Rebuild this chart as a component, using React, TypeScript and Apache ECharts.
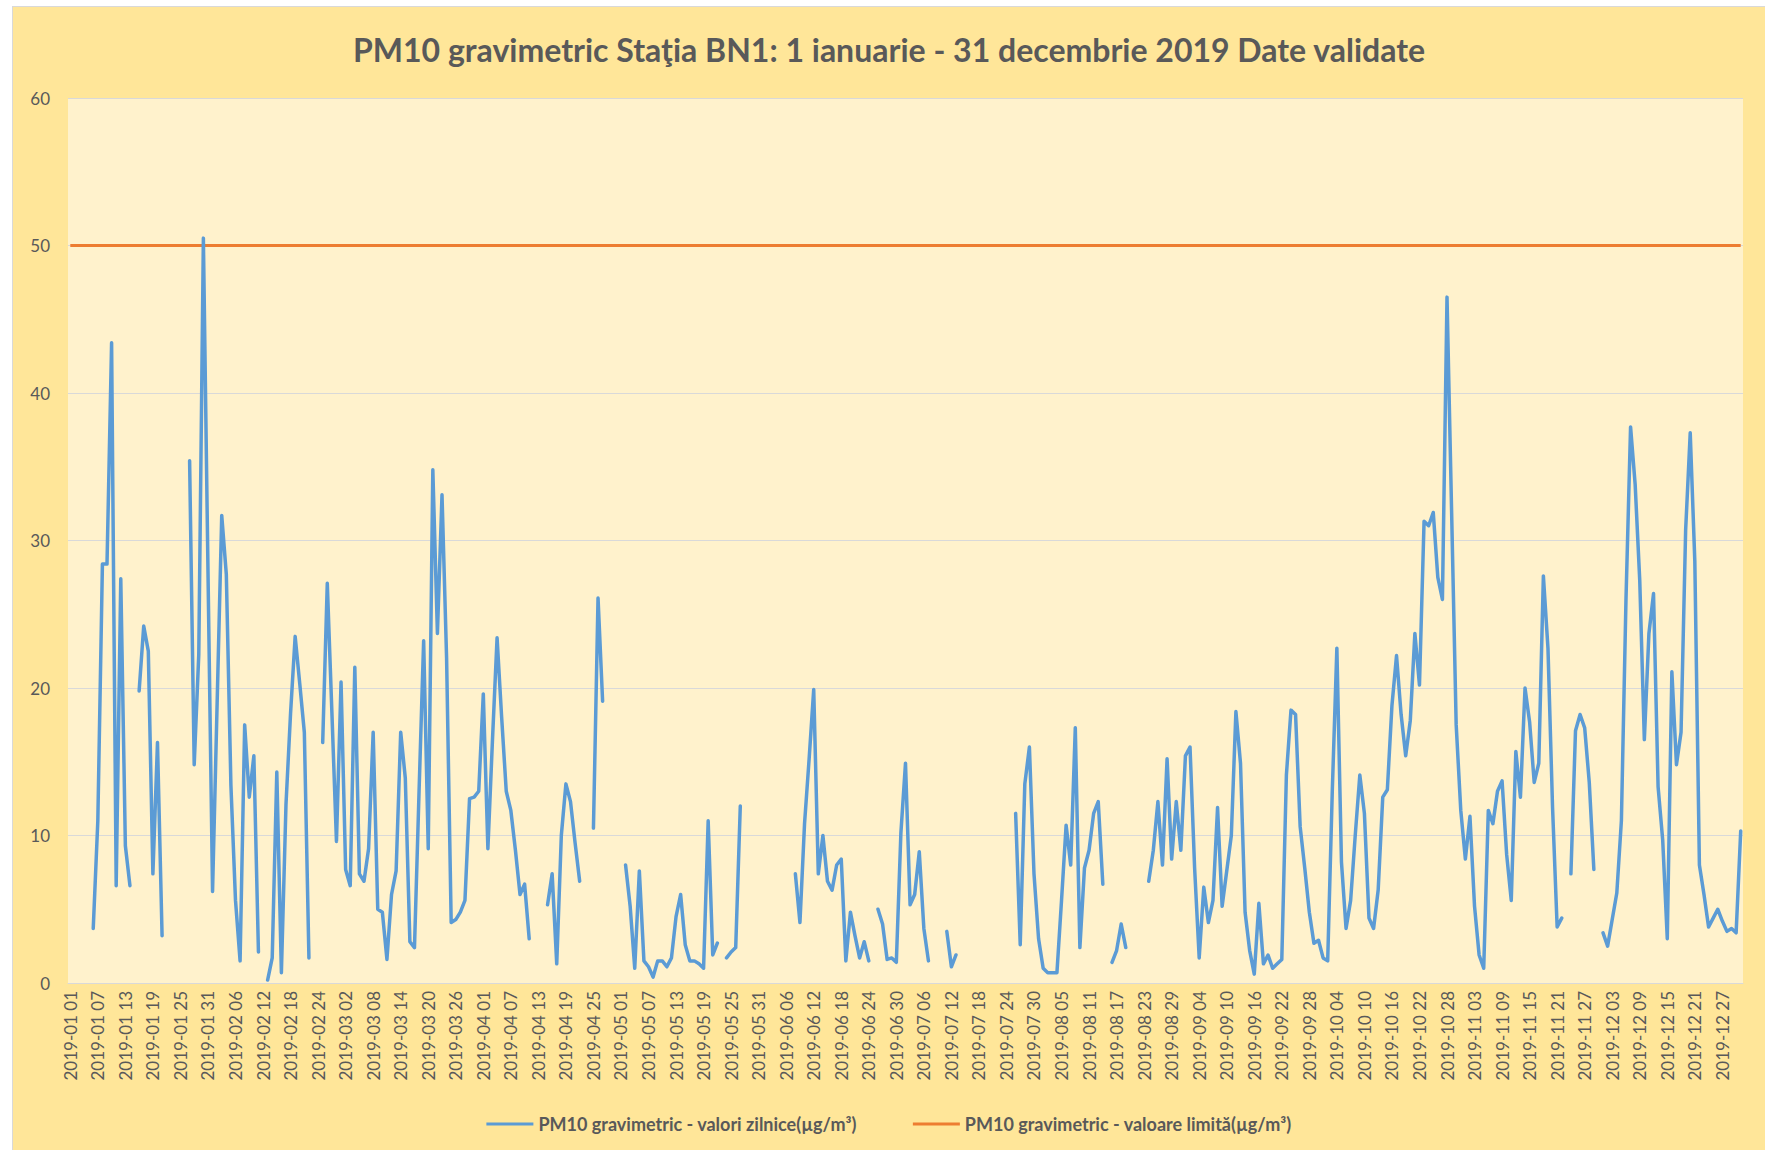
import React, { useEffect, useRef } from "react";
import * as echarts from "echarts";

const TITLE = "PM10 gravimetric Staţia BN1: 1 ianuarie - 31 decembrie 2019 Date validate";
const SERIES_DAILY = "PM10 gravimetric - valori zilnice(µg/m³)";
const SERIES_LIMIT = "PM10 gravimetric - valoare limită(µg/m³)";
const LIMIT_VALUE = 50;
const YEAR = 2019;
const MONTH_DAYS = [31, 28, 31, 30, 31, 30, 31, 31, 30, 31, 30, 31];
const Y_MIN = 0;
const Y_MAX = 60;
const Y_STEP = 10;

// Daily values (µg/m³), null = missing day
const jan = [null, null, null, null, null, 3.7, 11.0, 28.4, 28.4, 43.4, 6.6, 27.4, 9.3, 6.6, null, 19.8, 24.2, 22.5, 7.4, 16.3, 3.2, null, null, null, null, null, 35.4, 14.8, 22.3, 50.5, 28];
const feb = [6.2, 19, 31.7, 27.7, 13.4, 5.6, 1.5, 17.5, 12.6, 15.4, 2.1, null, 0.2, 1.7, 14.3, 0.7, 12.1, 18.3, 23.5, 20.3, 17.0, 1.7, null, null, 16.3, 27.1, 18.4, 9.6];
const mar = [20.4, 7.7, 6.6, 21.4, 7.4, 6.9, 9.1, 17.0, 5.0, 4.8, 1.6, 6.0, 7.6, 17.0, 13.9, 2.8, 2.4, 13, 23.2, 9.1, 34.8, 23.7, 33.1, 22, 4.1, 4.3, 4.8, 5.6, 12.5, 12.6, 13.0];
const apr = [19.6, 9.1, 16.5, 23.4, 18, 13.0, 11.7, 9, 6.0, 6.7, 3.0, null, null, null, 5.3, 7.4, 1.3, 10.0, 13.5, 12.3, 9.5, 6.9, null, null, 10.5, 26.1, 19.1, null, null, null];
const may = [null, 8.0, 5.2, 1.0, 7.6, 1.5, 1.1, 0.4, 1.5, 1.5, 1.1, 1.7, 4.5, 6.0, 2.6, 1.5, 1.5, 1.3, 1.0, 11.0, 1.9, 2.7, null, 1.7, 2.1, 2.4, 12.0, null, null, null, null];
const jun = [null, null, null, null, null, null, null, 7.4, 4.1, 10.8, 15.2, 19.9, 7.4, 10.0, 6.9, 6.3, 8.0, 8.4, 1.5, 4.8, 3.2, 1.7, 2.8, 1.5, null, 5.0, 4.0, 1.6, 1.7, 1.4];
const jul = [10.2, 14.9, 5.3, 6.0, 8.9, 3.7, 1.5, null, null, null, 3.5, 1.1, 1.9, null, null, null, null, null, null, null, null, null, null, null, null, 11.5, 2.6, 13.5, 16.0, 7.4, 3.0];
const aug = [1.0, 0.7, 0.7, 0.7, 5.6, 10.7, 8.0, 17.3, 2.4, 7.8, 9.0, 11.5, 12.3, 6.7, null, 1.4, 2.2, 4.0, 2.4, null, null, null, null, 6.9, 9.0, 12.3, 8.0, 15.2, 8.4, 12.3, 9.0];
const sep = [15.4, 16.0, 7.8, 1.7, 6.5, 4.1, 5.6, 11.9, 5.2, 7.6, 10.0, 18.4, 14.9, 4.8, 2.2, 0.6, 5.4, 1.3, 1.9, 1.0, 1.3, 1.6, 14.1, 18.5, 18.2, 10.6, 7.8, 4.8, 2.7, 2.9];
const oct = [1.7, 1.5, 13, 22.7, 8.2, 3.7, 5.6, 10, 14.1, 11.5, 4.4, 3.7, 6.3, 12.6, 13.1, 18.8, 22.2, 18.2, 15.4, 17.8, 23.7, 20.2, 31.3, 31.0, 31.9, 27.5, 26.0, 46.5, 32, 17.5, 11.7];
const nov = [8.4, 11.3, 5.2, 1.9, 1.0, 11.7, 10.8, 13.0, 13.7, 8.7, 5.6, 15.7, 12.6, 20.0, 17.7, 13.6, 14.9, 27.6, 22.7, 11.9, 3.8, 4.4, null, 7.4, 17.1, 18.2, 17.3, 13.6, 7.7, null];
const dec = [3.4, 2.5, 4.3, 6.1, 11.0, 26.0, 37.7, 33.8, 27.3, 16.5, 23.7, 26.4, 13.3, 9.7, 3.0, 21.1, 14.8, 17.0, 30.7, 37.3, 28.6, 8.0, 6.0, 3.8, 4.4, 5.0, 4.2, 3.5, 3.7, 3.4, 10.3];

const dailyValues = [...jan, ...feb, ...mar, ...apr, ...may, ...jun, ...jul, ...aug, ...sep, ...oct, ...nov, ...dec];

const pad = (n: number) => (n < 10 ? "0" + n : "" + n);
const categories: string[] = [];
MONTH_DAYS.forEach((days, m) => {
  for (let d = 1; d <= days; d++) categories.push(`${YEAR}-${pad(m + 1)} ${pad(d)}`);
});
const limitValues = categories.map(() => LIMIT_VALUE);

const TEXT = "#595959";
const GRID = "#D9D9D9";
const FONT = "Lato";

export default function App() {
  const ref = useRef<HTMLDivElement>(null);
  useEffect(() => {
    if (!ref.current) return;
    const chart = echarts.init(ref.current, undefined, { renderer: "svg" });
    chart.setOption({
      animation: false,
      backgroundColor: "#FFE699",
      textStyle: { fontFamily: FONT },
      title: {
        text: TITLE,
        left: "center",
        top: 21,
        textStyle: { fontSize: 32, fontWeight: "bold", color: TEXT, fontFamily: FONT },
      },
      legend: {
        data: [SERIES_DAILY, SERIES_LIMIT],
        left: "center",
        top: 1103,
        icon: "rect",
        itemWidth: 47,
        itemHeight: 3,
        itemGap: 56,
        textStyle: { fontSize: 18, fontWeight: "bold", color: TEXT, fontFamily: FONT },
      },
      grid: {
        left: 55,
        top: 91,
        width: 1675,
        height: 885,
        show: true,
        backgroundColor: "#FFF2CC",
        borderWidth: 0,
      },
      xAxis: {
        type: "category",
        data: categories,
        boundaryGap: true,
        axisLine: { lineStyle: { color: GRID, width: 1 } },
        axisTick: { show: false },
        axisLabel: { interval: 5, rotate: 90, color: TEXT, fontSize: 17, margin: 8, fontFamily: FONT },
      },
      yAxis: {
        type: "value",
        min: Y_MIN,
        max: Y_MAX,
        interval: Y_STEP,
        axisLine: { show: false },
        axisTick: { show: false },
        axisLabel: { color: TEXT, fontSize: 17, margin: 18, fontFamily: FONT },
        splitLine: { lineStyle: { color: GRID, width: 1 } },
      },
      series: [
        {
          name: SERIES_LIMIT,
          type: "line",
          data: limitValues,
          symbol: "none",
          lineStyle: { color: "#ED7D31", width: 3 },
          itemStyle: { color: "#ED7D31" },
        },
        {
          name: SERIES_DAILY,
          type: "line",
          data: dailyValues,
          symbol: "none",
          connectNulls: false,
          lineStyle: { color: "#5B9BD5", width: 3.5, join: "round", cap: "round" },
          itemStyle: { color: "#5B9BD5" },
        },
      ],
    });
    return () => chart.dispose();
  }, []);

  return (
    <div style={{ position: "fixed", left: 0, top: 0, width: 1765, height: 1150, background: "#fff", overflow: "hidden" }}>
      <div style={{ position: "absolute", left: 12, top: 6, width: 1753, height: 1144, borderLeft: "1px solid #D9D9D9", borderTop: "1px solid #D9D9D9" }}>
        <div ref={ref} style={{ width: 1752, height: 1143 }} />
      </div>
    </div>
  );
}
